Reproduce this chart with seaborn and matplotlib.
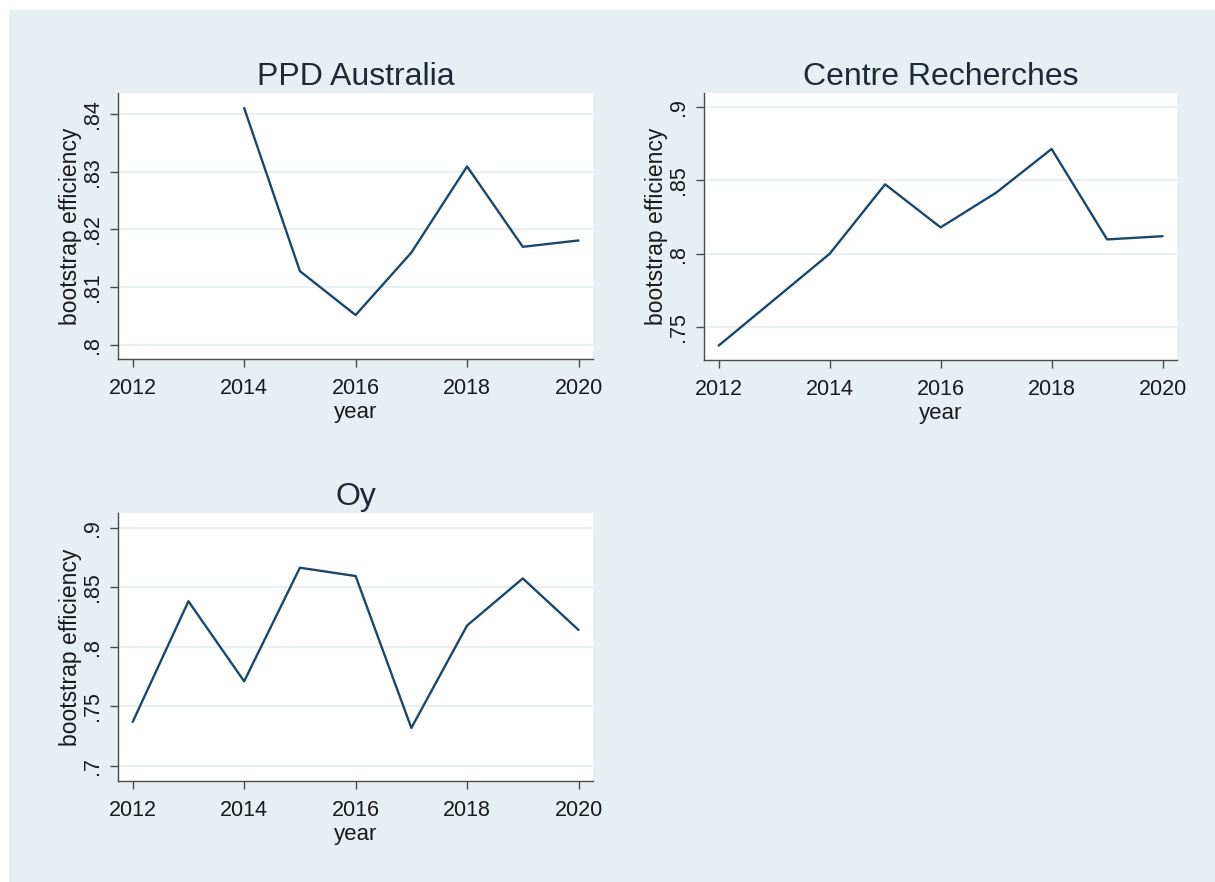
import matplotlib
matplotlib.use('Agg')
import matplotlib.pyplot as plt
from matplotlib.patches import Rectangle
from matplotlib.ticker import FuncFormatter
import seaborn as sns
import pandas as pd

sns.set_style('white')
plt.rcParams['font.family'] = ['Liberation Sans', 'DejaVu Sans']

# bootstrap efficiency per firm
ppd_years = [2014, 2015, 2016, 2017, 2018, 2019, 2020]
ppd_eff = [0.841, 0.8128, 0.8052, 0.816, 0.8309, 0.817, 0.8181]

centre_years = [2012, 2014, 2015, 2016, 2017, 2018, 2019, 2020]
centre_eff = [0.7375, 0.800, 0.8473, 0.818, 0.8416, 0.8714, 0.8098, 0.812]

oy_years = [2012, 2013, 2014, 2015, 2016, 2017, 2018, 2019, 2020]
oy_eff = [0.7369, 0.8383, 0.771, 0.8665, 0.8595, 0.7318, 0.8179, 0.8575, 0.8142]

x_ticks = [2012, 2014, 2016, 2018, 2020]

BG = '#e7eff2'
LINE = '#1a476f'
TXT = '#1a1a1a'

panels = [
    ('PPD Australia', ppd_years, ppd_eff, [0.80, 0.81, 0.82, 0.83, 0.84], (0.7976, 0.8436),
     [118 / 1215, 1 - 359 / 882, 475 / 1215, 266 / 882]),
    ('Centre Recherches', centre_years, centre_eff, [0.75, 0.80, 0.85, 0.90], (0.7277, 0.9095),
     [704 / 1215, 1 - 360 / 882, 473 / 1215, 267 / 882]),
    ('Oy', oy_years, oy_eff, [0.70, 0.75, 0.80, 0.85, 0.90], (0.6872, 0.9125),
     [118 / 1215, 1 - 781 / 882, 475 / 1215, 268 / 882]),
]


def stata_fmt(v, pos):
    # Stata style: no leading zero, no trailing zeros
    s = f'{v:.2f}'.rstrip('0')
    if s.startswith('0'):
        s = s[1:]
    return s


fig = plt.figure(figsize=(12.15, 8.82), dpi=100, facecolor='white')
fig.patches.append(Rectangle((9 / 1215, 0), 1, 1 - 10 / 882, transform=fig.transFigure,
                             facecolor=BG, edgecolor='none', zorder=-10))

for title, years, eff, yticks, ylim, pos in panels:
    ax = fig.add_axes(pos)
    df = pd.DataFrame({'year': years, 'eff': eff})
    sns.lineplot(data=df, x='year', y='eff', ax=ax, color=LINE, linewidth=1.7)
    ax.set_facecolor('white')
    ax.set_xlim(2011.736, 2020.26)
    ax.set_ylim(*ylim)
    ax.set_xticks(x_ticks)
    ax.set_yticks(yticks)
    ax.yaxis.set_major_formatter(FuncFormatter(stata_fmt))
    ax.grid(axis='y', color=BG, linewidth=1.3)
    ax.grid(axis='x', visible=False)
    for side in ['top', 'right']:
        ax.spines[side].set_visible(False)
    for side in ['left', 'bottom']:
        ax.spines[side].set_color('#4a4a4a')
        ax.spines[side].set_linewidth(1.0)
    ax.tick_params(axis='both', which='major', direction='out', length=6, width=1,
                   color='#4a4a4a', labelsize=15.5, labelcolor=TXT, pad=5,
                   bottom=True, left=True)
    ax.tick_params(axis='x', pad=8)
    for lab in ax.get_yticklabels():
        lab.set_rotation(90)
        lab.set_va('center')
    ax.set_xlabel('year', fontsize=16, color=TXT, labelpad=2)
    ax.set_ylabel('bootstrap efficiency', fontsize=16.5, color=TXT, labelpad=0)
    ax.set_title(title, fontsize=23, color='#1f2a36', pad=6)

plt.savefig('out.png', dpi=100, facecolor=fig.get_facecolor())
